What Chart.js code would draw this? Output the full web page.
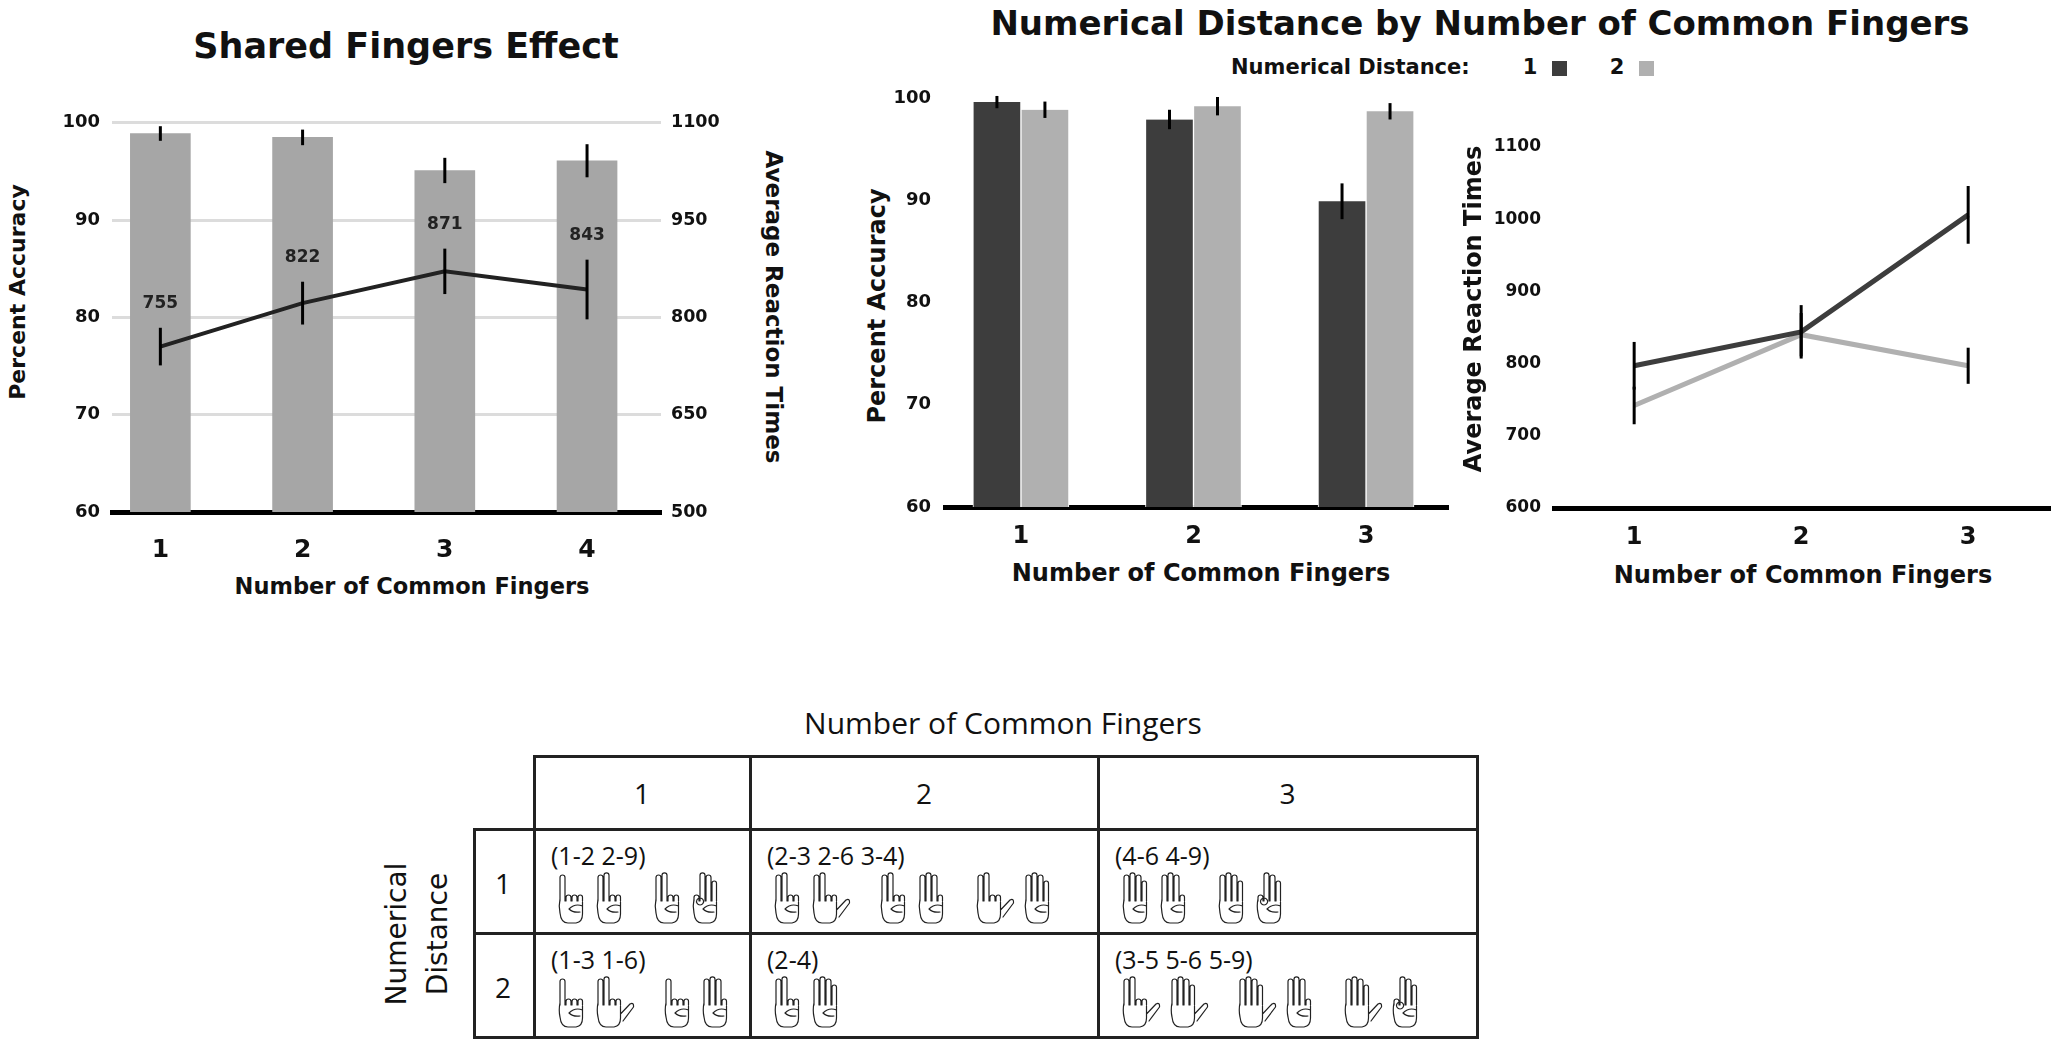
<!DOCTYPE html>
<html lang="en">
<head>
<meta charset="UTF-8">
<title>Shared Fingers Effect</title>
<script src="https://cdn.jsdelivr.net/npm/chart.js"></script>
<style>
    body { margin: 0; background: #fff; color: #111; font-family: 'DejaVu Sans', sans-serif; }
    #page { position: relative; width: 2055px; height: 1041px; overflow: hidden; background: #fff; }
    canvas { position: absolute; }
    .t { position: absolute; white-space: nowrap; line-height: 1; font-weight: bold; transform: translate(-50%, -50%); }
    .rl { transform: translate(-50%, -50%) rotate(-90deg); }
    .rr { transform: translate(-50%, -50%) rotate(90deg); }
    .box { position: absolute; width: 15px; height: 15px; }
    .cell { position: absolute; box-sizing: border-box; border: 3px solid #222; }
    .tt { position: absolute; white-space: nowrap; line-height: 1; font-family: 'Open Sans', sans-serif; color: #111; transform: translate(-50%, -50%); }
    .ctext { position: absolute; white-space: nowrap; line-height: 1; font-family: 'Open Sans', sans-serif; font-size: 25px; color: #111; transform: translateY(-50%); }
    .hands { position: absolute; display: flex; align-items: flex-end; }
    .pair { display: flex; gap: 8px; margin-right: 28px; }
</style>
</head>
<body>
<div id="page">
    <div class="t" style="left:406px; top:46px; font-size:35px;">Shared Fingers Effect</div>
    <div class="t rl" style="left:18px; top:292px; font-size:22px;">Percent Accuracy</div>
    <div class="t rr" style="left:773px; top:307px; font-size:23px;">Average Reaction Times</div>
    <div class="t" style="left:412px; top:586px; font-size:22.5px;">Number of Common Fingers</div>
    <canvas id="sharedChart" width="800" height="520" style="left:0; top:100px;"></canvas>

    <div class="t" style="left:1480px; top:23px; font-size:34px;">Numerical Distance by Number of Common Fingers</div>
    <div class="t" style="left:1231px; top:67px; font-size:21px; transform:translateY(-50%);">Numerical Distance:</div>
    <div class="t" style="left:1530px; top:67px; font-size:21px;">1</div>
    <div class="box" style="left:1552px; top:61px; background:#3d3d3d;"></div>
    <div class="t" style="left:1617px; top:67px; font-size:21px;">2</div>
    <div class="box" style="left:1639px; top:61px; background:#b0b0b0;"></div>

    <div class="t rl" style="left:877px; top:306px; font-size:24px;">Percent Accuracy</div>
    <div class="t" style="left:1201px; top:573px; font-size:24px;">Number of Common Fingers</div>
    <canvas id="accChart" width="640" height="560" style="left:820px; top:60px;"></canvas>

    <div class="t rl" style="left:1473px; top:309px; font-size:24px;">Average Reaction Times</div>
    <div class="t" style="left:1803px; top:575px; font-size:24px;">Number of Common Fingers</div>
    <canvas id="rtChart" width="595" height="560" style="left:1460px; top:60px;"></canvas>

    <div id="fingerTable"></div>
</div>

<script>
    // shared fingers effect (left)
    const fingerCats = [1, 2, 3, 4];
    const accuracy = [98.9, 98.5, 95.1, 96.1];
    const accuracyErr = [0.75, 0.8, 1.3, 1.7];
    const reactionTime = [755, 822, 871, 843];
    const reactionErr = [29, 33, 35, 46];

    // numerical distance by common fingers (right)
    const distCats = [1, 2, 3];
    const accDist1 = [99.6, 97.9, 89.9];
    const accDist1Err = [0.6, 0.95, 1.75];
    const accDist2 = [98.85, 99.2, 98.7];
    const accDist2Err = [0.8, 0.9, 0.8];
    const rtDist1 = [797, 844, 1006];
    const rtDist1Err = [33, 37, 40];
    const rtDist2 = [742, 840, 797];
    const rtDist2Err = [26, 30, 25];

    // stimulus table
    const tableTitle = 'Number of Common Fingers';
    const tableCols = ['1', '2', '3'];
    const tableRows = ['1', '2'];
    const cellPairs = [
        [['1-2', '2-9'], ['2-3', '2-6', '3-4'], ['4-6', '4-9']],
        [['1-3', '1-6'], ['2-4'], ['3-5', '5-6', '5-9']]
    ];

    const FONT = 'DejaVu Sans';
    const DARK = '#3d3d3d';
    const LIGHT = '#b0b0b0';

    function points(xs, ys) {
        return xs.map((x, i) => ({ x: x, y: ys[i] }));
    }

    // vertical error bars, drawn from the dataset values through the scales
    const errorBars = {
        id: 'errorBars',
        afterDatasetsDraw(chart) {
            const ctx = chart.ctx;
            chart.data.datasets.forEach((ds, i) => {
                if (!ds.errors) return;
                const meta = chart.getDatasetMeta(i);
                const scale = chart.scales[meta.yAxisID];
                ctx.save();
                ctx.strokeStyle = '#000';
                ctx.lineWidth = 3;
                meta.data.forEach((el, j) => {
                    const v = ds.data[j].y, e = ds.errors[j];
                    ctx.beginPath();
                    ctx.moveTo(el.x, scale.getPixelForValue(v + e));
                    ctx.lineTo(el.x, scale.getPixelForValue(v - e));
                    ctx.stroke();
                });
                ctx.restore();
            });
        }
    };

    // value labels above the reaction time error bars
    const valueLabels = {
        id: 'valueLabels',
        afterDatasetsDraw(chart) {
            const ctx = chart.ctx;
            chart.data.datasets.forEach((ds, i) => {
                if (!ds.showValues) return;
                const meta = chart.getDatasetMeta(i);
                const scale = chart.scales[meta.yAxisID];
                ctx.save();
                ctx.fillStyle = '#222';
                ctx.font = 'bold 17px ' + FONT;
                ctx.textAlign = 'center';
                ctx.textBaseline = 'middle';
                meta.data.forEach((el, j) => {
                    const v = ds.data[j].y, e = ds.errors[j];
                    ctx.fillText(String(v), el.x, scale.getPixelForValue(v + e) - 24);
                });
                ctx.restore();
            });
        }
    };

    function xAxis(cats, min, max, height, pad, size) {
        return {
            type: 'linear', min: min, max: max, z: 1, offset: false,
            afterBuildTicks: s => { s.ticks = cats.map(v => ({ value: v })); },
            afterFit: s => { s.height = height; },
            grid: { display: false, drawTicks: false, offset: false },
            border: { display: true, color: '#000', width: 5 },
            ticks: { padding: pad, maxRotation: 0, color: '#111', font: { family: FONT, weight: 'bold', size: size },
                     callback: v => String(v) }
        };
    }

    function yAxis(min, max, step, width, pad, size, pos) {
        return {
            position: pos || 'left', min: min, max: max,
            afterFit: s => { s.width = width; },
            grid: { display: false, drawTicks: false },
            border: { display: false },
            ticks: { stepSize: step, padding: pad, color: '#111', font: { family: FONT, weight: 'bold', size: size },
                     callback: v => String(v) }
        };
    }

    const baseOptions = {
        responsive: false,
        animation: false,
        plugins: { legend: { display: false }, tooltip: { enabled: false }, title: { display: false } }
    };

    // left chart
    const yAcc = yAxis(60, 100, 10, 112, 12, 18);
    yAcc.grid = {
        display: true, drawTicks: false, lineWidth: 3,
        color: c => c.tick.value === 60 ? 'rgba(0,0,0,0)' : '#dcdcdc'
    };
    new Chart(document.getElementById('sharedChart'), {
        type: 'bar',
        data: {
            datasets: [{
                type: 'bar',
                data: points(fingerCats, accuracy),
                errors: accuracyErr,
                backgroundColor: '#a6a6a6',
                barThickness: 60,
                yAxisID: 'y',
                order: 1
            }, {
                type: 'line',
                data: points(fingerCats, reactionTime),
                errors: reactionErr,
                showValues: true,
                borderColor: '#222',
                borderWidth: 4,
                pointRadius: 0,
                tension: 0,
                yAxisID: 'y1',
                order: 0
            }]
        },
        options: Object.assign({}, baseOptions, {
            layout: { padding: { top: 19, left: 0, right: 0, bottom: 0 } },
            scales: {
                x: xAxis(fingerCats, 0.66, 4.52, 108, 23, 25),
                y: yAcc,
                y1: yAxis(500, 1100, 150, 139, 10, 17.5, 'right')
            }
        }),
        plugins: [errorBars, valueLabels]
    });

    // middle chart: accuracy by numerical distance
    new Chart(document.getElementById('accChart'), {
        type: 'bar',
        data: {
            datasets: [{
                data: points(distCats, accDist1),
                errors: accDist1Err,
                backgroundColor: DARK,
                borderColor: '#fff',
                borderWidth: { left: 1, right: 1, top: 0, bottom: 0 },
                barThickness: 48
            }, {
                data: points(distCats, accDist2),
                errors: accDist2Err,
                backgroundColor: LIGHT,
                borderColor: '#fff',
                borderWidth: { left: 1, right: 1, top: 0, bottom: 0 },
                barThickness: 48
            }]
        },
        options: Object.assign({}, baseOptions, {
            layout: { padding: { top: 38, left: 0, right: 12, bottom: 0 } },
            scales: {
                x: xAxis(distCats, 0.56, 3.475, 113, 15, 24),
                y: yAxis(60, 100, 10, 125, 14, 18)
            }
        }),
        plugins: [errorBars]
    });

    // right chart: reaction times by numerical distance
    new Chart(document.getElementById('rtChart'), {
        type: 'line',
        data: {
            datasets: [{
                data: points(distCats, rtDist1),
                errors: rtDist1Err,
                borderColor: DARK,
                borderWidth: 5,
                pointRadius: 0,
                tension: 0
            }, {
                data: points(distCats, rtDist2),
                errors: rtDist2Err,
                borderColor: LIGHT,
                borderWidth: 5,
                pointRadius: 0,
                tension: 0
            }]
        },
        options: Object.assign({}, baseOptions, {
            layout: { padding: { top: 87, left: 0, right: 5, bottom: 0 } },
            scales: {
                x: xAxis(distCats, 0.52, 3.49, 112, 15, 24),
                y: yAxis(600, 1100, 100, 94, 13, 17)
            }
        }),
        plugins: [errorBars]
    });

    // finger shapes: thumb, index, middle, ring, pinky
    const handShapes = {
        1: [0, 1, 0, 0, 0], 2: [0, 1, 1, 0, 0], 3: [1, 1, 1, 0, 0], 4: [0, 1, 1, 1, 1],
        5: [1, 1, 1, 1, 1], 6: [0, 1, 1, 1, 0], 9: [0, 0, 1, 1, 1]
    };

    function handSvg(n) {
        const f = handShapes[n];
        const w = f[0] ? 40 : 30;
        const fx = [[3, 8], [9, 14], [15, 20], [21, 25.5]];
        const tops = [3, 0.8, 3, 9];
        let d = '';
        fx.forEach((p, k) => {
            const top = f[k + 1] ? tops[k] : 23;
            const r = (p[1] - p[0]) / 2;
            d += 'M' + p[0] + ',29 L' + p[0] + ',' + (top + r) + ' A' + r + ',' + r + ' 0 0 1 ' + p[1] + ',' + (top + r) + ' L' + p[1] + ',29 ';
        });
        d += 'M3,27 Q1.5,34 3,41 Q4,51 11,51 L19,51 Q25.5,50 25.5,42 L25.5,30 ';
        if (f[0]) d += 'M25.5,38 L35,28 Q39,26 38.5,31 L28,45 ';
        else d += 'M25.5,34 Q18,31 12,37 Q16,41 23,40 ';
        if (n === 9) d += 'M9,26 A3.5,3.5 0 1 0 9.1,26 ';
        return '<svg width="' + w + '" height="52" viewBox="0 0 ' + w + ' 52"><path d="' + d +
            '" fill="none" stroke="#222" stroke-width="1.2" stroke-linecap="round" stroke-linejoin="round"/></svg>';
    }

    function buildTable() {
        const colX = [534, 750, 1098, 1477];
        const rowY = [756, 829, 933, 1037];
        const headX = 474;
        let html = '<div class="tt" style="left:1003px; top:723px; font-size:30px;">' + tableTitle + '</div>';
        const cell = (x0, y0, x1, y1) =>
            '<div class="cell" style="left:' + (x0 - 1.5) + 'px; top:' + (y0 - 1.5) + 'px; width:' + (x1 - x0 + 3) + 'px; height:' + (y1 - y0 + 3) + 'px;"></div>';

        tableCols.forEach((c, i) => {
            html += cell(colX[i], rowY[0], colX[i + 1], rowY[1]);
            html += '<div class="tt" style="left:' + ((colX[i] + colX[i + 1]) / 2) + 'px; top:793px; font-size:28px;">' + c + '</div>';
        });
        html += '<div class="tt" style="left:417px; top:934px; font-size:28px; line-height:41px; text-align:center; font-family:\'DejaVu Sans\'; transform:translate(-50%,-50%) rotate(-90deg);">Numerical<br>Distance</div>';

        tableRows.forEach((r, j) => {
            const y0 = rowY[j + 1], y1 = rowY[j + 2];
            html += cell(headX, y0, colX[0], y1);
            html += '<div class="tt" style="left:503px; top:' + ((y0 + y1) / 2 + 2) + 'px; font-size:28px;">' + r + '</div>';
            tableCols.forEach((c, i) => {
                html += cell(colX[i], y0, colX[i + 1], y1);
                const pairs = cellPairs[j][i];
                const tx = colX[i] + 17;
                html += '<div class="ctext" style="left:' + tx + 'px; top:' + (y0 + 26) + 'px;">(' + pairs.join(' ') + ')</div>';
                html += '<div class="hands" style="left:' + (tx + 6) + 'px; top:' + (y0 + 43) + 'px;">';
                pairs.forEach(p => {
                    html += '<span class="pair">' + p.split('-').map(k => handSvg(+k)).join('') + '</span>';
                });
                html += '</div>';
            });
        });
        document.getElementById('fingerTable').innerHTML = html;
    }

    buildTable();
</script>
</body>
</html>
